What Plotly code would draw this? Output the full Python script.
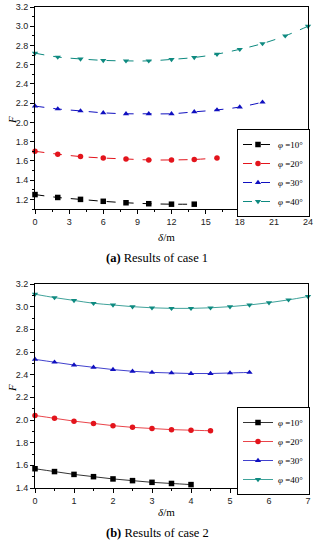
import plotly.graph_objects as go

# ---- data: case 1 ----
x1_10 = [0, 2, 4, 6, 8, 10, 12, 14]
f1_10 = [1.25, 1.22, 1.20, 1.18, 1.165, 1.155, 1.15, 1.15]
x1_20 = [0, 2, 4, 6, 8, 10, 12, 14, 16]
f1_20 = [1.70, 1.67, 1.645, 1.63, 1.62, 1.61, 1.61, 1.615, 1.63]
x1_30 = [0, 2, 4, 6, 8, 10, 12, 14, 16, 18, 20]
f1_30 = [2.17, 2.14, 2.12, 2.10, 2.09, 2.09, 2.09, 2.11, 2.13, 2.16, 2.21]
x1_40 = [0, 2, 4, 6, 8, 10, 12, 14, 16, 18, 20, 22, 24]
f1_40 = [2.72, 2.68, 2.66, 2.645, 2.64, 2.64, 2.655, 2.675, 2.71, 2.76, 2.82, 2.90, 3.00]

# ---- data: case 2 ----
x2_10 = [0, 0.5, 1, 1.5, 2, 2.5, 3, 3.5, 4]
f2_10 = [1.57, 1.545, 1.52, 1.50, 1.48, 1.465, 1.45, 1.44, 1.43]
x2_20 = [0, 0.5, 1, 1.5, 2, 2.5, 3, 3.5, 4, 4.5]
f2_20 = [2.04, 2.015, 1.99, 1.97, 1.95, 1.935, 1.925, 1.915, 1.91, 1.905]
x2_30 = [0, 0.5, 1, 1.5, 2, 2.5, 3, 3.5, 4, 4.5, 5, 5.5]
f2_30 = [2.535, 2.51, 2.485, 2.465, 2.445, 2.43, 2.42, 2.415, 2.41, 2.41, 2.415, 2.42]
x2_40 = [0, 0.5, 1, 1.5, 2, 2.5, 3, 3.5, 4, 4.5, 5, 5.5, 6, 6.5, 7]
f2_40 = [3.11, 3.08, 3.055, 3.03, 3.015, 3.0, 2.99, 2.985, 2.985, 2.99, 3.0, 3.015, 3.035, 3.06, 3.09]

names = ["<i>φ</i> =10°", "<i>φ</i> =20°", "<i>φ</i> =30°", "<i>φ</i> =40°"]
colors = ["#000000", "#e3141c", "#1010c0", "#0e8a80"]
symbols = ["square", "circle", "triangle-up", "triangle-down"]

W, H = 316, 550
def px(v): return v / W
def py(v): return 1 - v / H

fig = go.Figure()

case1 = [(x1_10, f1_10), (x1_20, f1_20), (x1_30, f1_30), (x1_40, f1_40)]
case2 = [(x2_10, f2_10), (x2_20, f2_20), (x2_30, f2_30), (x2_40, f2_40)]

for i, (xs, ys) in enumerate(case1):
    fig.add_trace(go.Scatter(x=xs, y=ys, mode="lines+markers", name=names[i],
                             line=dict(color=colors[i], width=1, dash="dash", shape="spline"),
                             marker=dict(symbol=symbols[i], size=5.5, color=colors[i]),
                             xaxis="x", yaxis="y", legend="legend", cliponaxis=False))
for i, (xs, ys) in enumerate(case2):
    fig.add_trace(go.Scatter(x=xs, y=ys, mode="lines+markers", name=names[i],
                             line=dict(color=colors[i], width=0.8, shape="spline"),
                             marker=dict(symbol=symbols[i], size=5.5, color=colors[i]),
                             xaxis="x2", yaxis="y2", legend="legend2", cliponaxis=False))

tickfont = dict(family="Liberation Sans, Arial", size=9, color="#222")
dom_x = [px(35), px(308)]
dom_y1 = [py(209), py(7)]
dom_y2 = [py(488), py(284)]

def xax(rng, dtick, mdtick, anchor, dom):
    return dict(domain=dom, range=rng, dtick=dtick, tick0=0, anchor=anchor, automargin=False,
                showgrid=False, zeroline=False, showline=True, linecolor="black", linewidth=1,
                mirror=True, ticks="outside", ticklen=4, tickcolor="black", tickfont=tickfont,
                minor=dict(dtick=mdtick, ticks="outside", ticklen=2, tickcolor="black"))

def yax(rng, anchor, dom):
    return dict(domain=dom, range=rng, dtick=0.2, tick0=0, anchor=anchor, tickformat=".1f",
                automargin=False,
                showgrid=False, zeroline=False, showline=True, linecolor="black", linewidth=1,
                mirror=True, ticks="outside", ticklen=4, tickcolor="black", tickfont=tickfont,
                minor=dict(dtick=0.1, ticks="outside", ticklen=2, tickcolor="black"))

def mirror_x(rng, dtick, mdtick, over, anchor):
    return dict(overlaying=over, side="top", range=rng, dtick=dtick, tick0=0, anchor=anchor,
                automargin=False,
                showgrid=False, zeroline=False, showline=False, showticklabels=False,
                ticks="inside", ticklen=4, tickcolor="black",
                minor=dict(dtick=mdtick, ticks="inside", ticklen=2, tickcolor="black"))

def mirror_y(rng, over, anchor):
    return dict(overlaying=over, side="right", range=rng, dtick=0.2, tick0=0, anchor=anchor,
                automargin=False,
                showgrid=False, zeroline=False, showline=False, showticklabels=False,
                ticks="inside", ticklen=4, tickcolor="black",
                minor=dict(dtick=0.1, ticks="inside", ticklen=2, tickcolor="black"))

legfont = dict(family="Liberation Serif", size=9, color="black")
fig.update_layout(
    width=W, height=H, margin=dict(l=0, r=0, t=0, b=0, autoexpand=False),
    plot_bgcolor="white", paper_bgcolor="white",
    xaxis=xax([0, 24], 3, 1.5, "y", dom_x),
    yaxis=yax([1.1, 3.2], "x", dom_y1),
    xaxis2=xax([0, 7], 1, 0.5, "y2", dom_x),
    yaxis2=yax([1.4, 3.2], "x2", dom_y2),
    xaxis3=mirror_x([0, 24], 3, 1.5, "x", "y"),
    yaxis3=mirror_y([1.1, 3.2], "y", "x"),
    xaxis4=mirror_x([0, 7], 1, 0.5, "x2", "y2"),
    yaxis4=mirror_y([1.4, 3.2], "y2", "x2"),
    legend=dict(x=px(237), y=py(129), xanchor="left", yanchor="top",
                bgcolor="white", bordercolor="black", borderwidth=1,
                font=legfont, itemwidth=30, tracegroupgap=0),
    legend2=dict(x=px(237), y=py(407), xanchor="left", yanchor="top",
                 bgcolor="white", bordercolor="black", borderwidth=1,
                 font=legfont, itemwidth=30, tracegroupgap=0),
    showlegend=True,
)

serif = dict(family="Liberation Serif", color="black")
ann = [
    dict(x=px(12), y=py(120), text="<i>F</i>", textangle=-90, font=serif | dict(size=11)),
    dict(x=px(12), y=py(388), text="<i>F</i>", textangle=-90, font=serif | dict(size=11)),
    dict(x=px(166), y=py(237), text="<i>δ</i>/m", font=serif | dict(size=11)),
    dict(x=px(166), y=py(512), text="<i>δ</i>/m", font=serif | dict(size=11)),
    dict(x=px(157), y=py(258), text="<b>(a)</b> Results of case 1", font=serif | dict(size=12.5)),
    dict(x=px(157), y=py(533), text="<b>(b)</b> Results of case 2", font=serif | dict(size=12.5)),
]
for a in ann:
    fig.add_annotation(xref="paper", yref="paper", showarrow=False, xanchor="center", yanchor="middle", **a)

fig.write_html("out.html", config={"displayModeBar": False},
               post_script="document.body.style.margin='0';")
